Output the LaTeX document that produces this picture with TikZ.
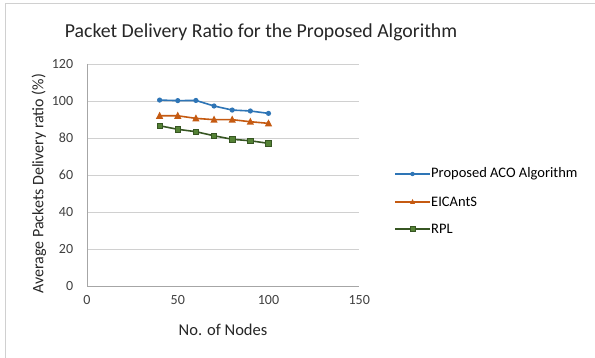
\documentclass[tikz,border=0pt]{standalone}
\usepackage{fontspec}
\setmainfont{Carlito}
\usetikzlibrary{calc}
\definecolor{acoblue}{HTML}{2E75B6}
\definecolor{antorange}{HTML}{C55A11}
\definecolor{rplgreen}{HTML}{375623}
\definecolor{rplfill}{HTML}{548235}
\definecolor{gridgray}{HTML}{D0D0D0}
\definecolor{axisgray}{HTML}{A6A6A6}
\definecolor{textgray}{HTML}{404040}
\begin{document}
\begin{tikzpicture}[x=1pt,y=1pt,
  tick/.style={font=\fontsize{14}{15}\selectfont, text=textgray, inner sep=1pt},
  legtext/.style={font=\fontsize{14.5}{15}\selectfont, anchor=west, inner sep=1pt, text=black},
  acoline/.style={acoblue, line width=1.6pt},
  antline/.style={antorange, line width=1.6pt},
  rplline/.style={rplgreen, line width=1.6pt}]
  \useasboundingbox (0,0) rectangle (595,358);
  \fill[white] (0,0) rectangle (595,358);
  % outer frame
  \draw[gridgray, line width=1pt] (5,0) -- (5,354.5) -- (595,354.5);
  % title
  \node[font=\fontsize{19.8}{22}\selectfont, text=black!85] (title) at (261,326) {Packet Delivery Ratio for the Proposed Algorithm};
  \begin{scope}[shift={(87,72)}, x=1.815pt, y=1.85pt]
    % grid and axes
    \foreach \yv in {20,40,...,120}
      \draw[gridgray, line width=0.8pt] (0,\yv) -- (150,\yv);
    \draw[axisgray, line width=0.8pt] (0,120) -- (0,0) -- (150,0);
    \foreach \yv in {0,20,...,120}
      \node[tick, anchor=east] (ylab\yv) at (-7,\yv) {\yv};
    \foreach \xv in {0,50,100,150}
      \node[tick, anchor=north] (xlab\xv) at (\xv,-4.5) {\xv};
    % data
    \draw[rplline] (40,86.6) -- (50,84.7) -- (60,83.4) -- (70,81.2) -- (80,79.3) -- (90,78.5) -- (100,77.1);
    \foreach \p in {(40,86.6),(50,84.7),(60,83.4),(70,81.2),(80,79.3),(90,78.5),(100,77.1)}
      \draw[rplgreen, fill=rplfill, line width=0.6pt] \p ++(-1.5,-1.45) rectangle ++(3,2.9);
    \draw[antline] (40,92) -- (50,92) -- (60,90.6) -- (70,89.9) -- (80,89.9) -- (90,88.8) -- (100,87.9);
    \foreach \p in {(40,92),(50,92),(60,90.6),(70,89.9),(80,89.9),(90,88.8),(100,87.9)}
      \fill[antorange] \p ++(0,2.2) -- ++(2,-3.8) -- ++(-4,0) -- cycle;
    \draw[acoline] (40,100.5) -- (50,100.2) -- (60,100.3) -- (70,97.3) -- (80,95.1) -- (90,94.6) -- (100,93.3);
    \foreach \p in {(40,100.5),(50,100.2),(60,100.3),(70,97.3),(80,95.1),(90,94.6),(100,93.3)}
      \fill[acoblue] \p circle (2.6pt);
  \end{scope}
  % axis titles
  \node[font=\fontsize{16.5}{18}\selectfont, text=black!85] (xtitle) at (223,28) {No. of Nodes};
  \node[font=\fontsize{16}{18}\selectfont, text=black!85, rotate=90] (ytitle) at (39,174) {Average Packets Delivery ratio (\%)};
  % legend
  \coordinate (acoA) at (395,184);
  \coordinate (acoB) at (430,184);
  \coordinate (antA) at (395,156);
  \coordinate (antB) at (430,156);
  \coordinate (rplA) at (395,129);
  \coordinate (rplB) at (430,129);
  \draw[acoline] (acoA) -- (acoB);
  \fill[acoblue] ($(acoA)!0.5!(acoB)$) circle (2.2pt);
  \node[legtext] (acoleg) at (acoB) {Proposed ACO Algorithm};
  \draw[antline] (antA) -- (antB);
  \fill[antorange] ($(antA)!0.5!(antB)$) ++(0,3) -- ++(2.5,-5) -- ++(-5,0) -- cycle;
  \node[legtext] (antleg) at (antB) {EICAntS};
  \draw[rplline] (rplA) -- (rplB);
  \draw[rplgreen, fill=rplfill, line width=0.6pt] ($(rplA)!0.5!(rplB)$) ++(-2.4,-2.4) rectangle ++(4.8,4.8);
  \node[legtext] (rplleg) at (rplB) {RPL};
\end{tikzpicture}
\end{document}
